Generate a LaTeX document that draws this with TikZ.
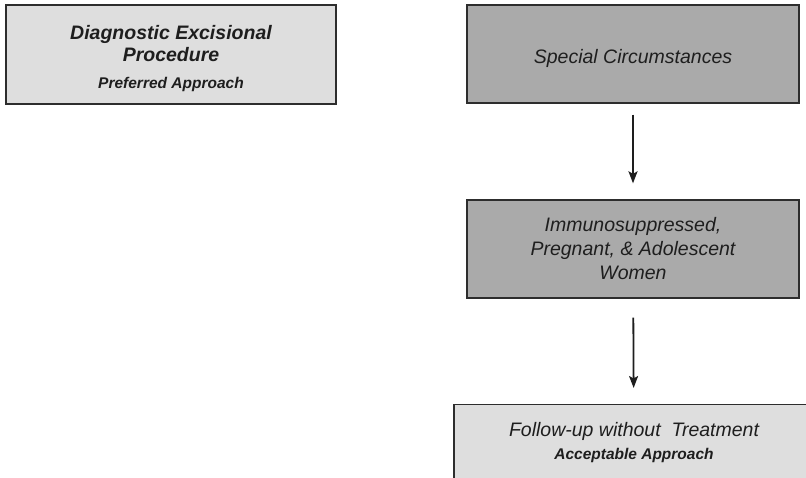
\documentclass[tikz,border=0pt]{standalone}
\usepackage{fontspec}
\setmainfont{Liberation Sans}
\usetikzlibrary{arrows.meta,positioning}
\definecolor{BXlight}{RGB}{222,222,222}
\definecolor{BXdark}{RGB}{170,170,170}
\definecolor{BXline}{RGB}{45,45,45}
\definecolor{BXtext}{RGB}{30,30,30}
\tikzset{
  lightbox/.style={draw=BXline,line width=1.3pt,fill=BXlight,text=BXtext,
                   align=center,inner sep=0pt,minimum width=330pt,minimum height=99pt},
  darkbox/.style={draw=BXline,line width=1.3pt,fill=BXdark,text=BXtext,
                  align=center,inner sep=0pt,minimum width=332pt,minimum height=98pt,
                  font=\fontsize{19.5}{24}\selectfont\itshape},
  ttl/.style={text=BXtext,align=center,inner sep=0pt,
              font=\fontsize{19.5}{22}\selectfont\itshape},
  fl/.style={-{Stealth[length=12pt,width=9pt,inset=2.5pt]},line width=1.8pt,draw=BXtext}
}
\newcommand{\subttl}[1]{{\fontsize{15.5}{17}\selectfont\bfseries\itshape #1}}

\begin{document}
\begin{tikzpicture}[x=1pt,y=-1pt]
  \useasboundingbox (0,0) rectangle (806,478);
  \clip (0,0) rectangle (806,478);
  \node[lightbox] (diag) at (171,54.5) {};
  \node[ttl,font=\fontsize{19.5}{22}\selectfont\bfseries\itshape] (diagtxt) at (171,59)
    {Diagnostic Excisional\\Procedure\\[5pt]\subttl{Preferred Approach}};
  \node[darkbox,text height=23.5pt] (spec) at (633,54) {Special Circumstances};
  \node[darkbox] (immu) at (633,249) {Immunosuppressed,\\Pregnant, \& Adolescent\\Women};
  \node[lightbox,minimum width=360pt,minimum height=120pt,anchor=north] (foll) at (634,404) {};
  \node[ttl,anchor=north] (folltxt) at (634,422)
    {Follow-up without\ \ Treatment\\[1pt]\subttl{Acceptable Approach}};
  \draw[fl,shorten <=11pt,shorten >=16pt] (spec) -- (immu);
  \draw[fl,shorten <=19pt,shorten >=16pt] (immu) -- (foll);
\end{tikzpicture}
\end{document}
